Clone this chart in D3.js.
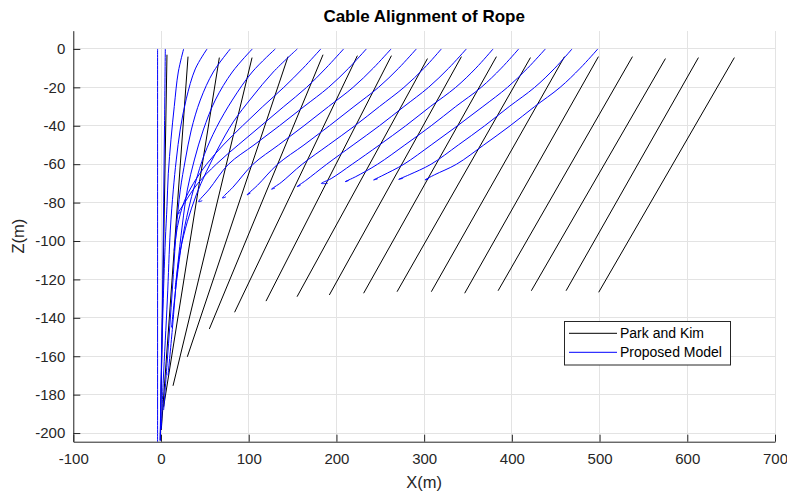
<!DOCTYPE html>
<html>
<head>
<meta charset="utf-8">
<script src="https://cdn.jsdelivr.net/npm/d3@7"></script>
<style>
  html, body { margin: 0; padding: 0; background: #fff; }
  svg { display: block; font-family: "Liberation Sans", Arial, Helvetica, sans-serif; }
</style>
</head>
<body>
<svg id="chart" width="787" height="497"></svg>
<script>
// Axis ticks
const xTicks = [-100, 0, 100, 200, 300, 400, 500, 600, 700];
const zTicks = [-200, -180, -160, -140, -120, -100, -80, -60, -40, -20, 0];

// Park and Kim: straight cable lines, surface end and anchor end
const parkKimTopX    = [653.7, 612.7, 575.1, 537.5, 498.7, 460.0, 421.2, 382.4, 342.5, 303.8, 262.7, 223.9, 184.7, 144.8, 103.8, 66.5, 30.8, 6.8];
const parkKimTopZ    = [-4.5, -4.5, -5.0, -4.0, -4.0, -4.0, -4.5, -4.0, -4.0, -5.0, -3.5, -3.5, -3.0, -4.0, -4.5, -4.5, -4.0, -3.0];
const parkKimBottomX = [499.0, 461.8, 422.2, 384.3, 346.2, 308.2, 269.1, 231.0, 191.9, 155.1, 119.7, 83.9, 55.1, 30.0, 13.7, 3.0, 0.3, -0.8];
const parkKimBottomZ = [-126.7, -125.9, -125.9, -125.9, -127.2, -126.4, -126.4, -127.2, -128.1, -129.0, -131.3, -137.1, -145.8, -160.3, -175.4, -186.3, -198.4, -203.6];

// Proposed model: cable shapes as [x, z] points
const proposedModel = [
  [[498,0],[478,-10],[455,-20],[426,-30],[398,-40],[368,-50],[337,-60],[312,-65.5],[301,-68.2],[305,-67.6]],
  [[468.6,0],[449,-10],[426,-20],[397,-30],[369,-40],[339,-50],[308,-60],[283,-65.5],[271,-67.9],[276,-67.3]],
  [[438.2,0],[418,-10],[395,-20],[367,-30],[338,-40],[308,-50],[277,-60],[253,-65.8],[242.4,-68.2],[247,-67.6]],
  [[407.8,0],[388,-10],[365,-20],[336,-30],[308,-40],[278,-50],[247,-60],[222,-66.5],[210,-69.1],[214,-68.5]],
  [[378.6,0],[359,-10],[336,-20],[307,-30],[279,-40],[249,-50],[218,-60],[194,-67.5],[182.8,-70],[190,-70]],
  [[348.1,0],[328,-10],[305,-20],[277,-30],[249,-40],[219,-50],[189,-60],[165,-68.5],[155.1,-71.7],[159,-71]],
  [[319.6,0],[300,-10],[277,-20],[249,-30],[221,-40],[191,-50],[161,-60],[137,-69.5],[126,-73],[130,-72.4]],
  [[291.1,0],[271,-10],[248,-20],[220,-30],[192,-40],[163,-50],[133,-60],[110,-71],[98,-76],[102,-75]],
  [[262.3,0],[242,-10],[219,-20],[191,-30],[163,-40],[134,-50],[105,-60],[82,-72],[70,-77.6],[74,-77]],
  [[234.1,0],[214,-10],[191,-20],[163,-30],[135,-40],[106,-50],[77,-60],[55,-73],[42.9,-79.5],[47,-79]],
  [[208.2,0],[188,-10],[166,-20],[140,-30],[114,-40],[88,-50],[63,-60],[42,-70],[27,-80],[19,-86],[22,-85]],
  [[182.2,0],[162,-10],[140,-20],[116,-30],[93,-40],[71,-50],[52,-60],[37,-70],[26,-80],[19,-92],[15,-105]],
  [[155.4,0],[128,-12],[104,-25],[82.4,-38],[65.3,-51.6],[51.6,-64],[40.2,-76],[30,-90],[22,-105],[16,-125]],
  [[130.3,0],[104,-12],[81.3,-26.6],[63.1,-41],[49.4,-55],[39.1,-69.8],[31.1,-83.9],[24,-100],[18,-120],[12,-145]],
  [[104.1,0],[81.3,-12],[61.9,-26.6],[48.2,-42.2],[38,-57.8],[30,-73.4],[24.3,-91.7],[18.6,-115],[12.9,-146],[8,-170]],
  [[79,0],[59.6,-12],[44.8,-26.6],[34.5,-42.2],[27.7,-57.8],[22,-73.4],[17.4,-94.3],[12.9,-125.5],[7.2,-162],[3,-188]],
  [[52.5,0],[39.1,-10.4],[28.8,-26],[22,-41.7],[17.4,-57.8],[14,-73.4],[10.6,-94.3],[7.2,-130.7],[2.6,-172.4],[0.3,-198]],
  [[25.8,0],[19.7,-12],[15.1,-30],[11.4,-47],[8.3,-65],[6.8,-82],[4.9,-100],[2.6,-130],[0.3,-172],[-0.8,-204]],
  [[4.9,0],[4,-40],[3,-80],[2,-120],[0.5,-160],[-1,-204]],
  [[-3.9,0],[-3.9,-100],[-3.9,-205]]
];

const seriesNames = ["Park and Kim", "Proposed Model"];
const seriesColors = ["#000000", "#0000ff"];

const svg = d3.select("#chart");
const plotLeft = 73.3, plotRight = 775, plotTop = 30.7, plotBottom = 441.7;

const x = d3.scaleLinear().domain([-100, 700]).range([plotLeft, plotRight]);
const z = d3.scaleLinear().domain([-204.5, 9.5]).range([plotBottom, plotTop]);

const axisColor = "#262626";
const gridColor = "#e3e3e3";
const plainNumber = d => String(d);

// grid
const grid = svg.append("g");
grid.selectAll("line.gx").data(xTicks).join("line")
  .attr("x1", d => x(d)).attr("x2", d => x(d))
  .attr("y1", plotTop).attr("y2", plotBottom)
  .attr("stroke", gridColor).attr("stroke-width", 1).attr("shape-rendering", "crispEdges");
grid.selectAll("line.gz").data(zTicks).join("line")
  .attr("x1", plotLeft).attr("x2", plotRight)
  .attr("y1", d => z(d)).attr("y2", d => z(d))
  .attr("stroke", gridColor).attr("stroke-width", 1).attr("shape-rendering", "crispEdges");

// plot clip
svg.append("clipPath").attr("id", "plotClip")
  .append("rect").attr("x", plotLeft).attr("y", plotTop)
  .attr("width", plotRight - plotLeft).attr("height", plotBottom - plotTop);

const plot = svg.append("g").attr("clip-path", "url(#plotClip)");

// Park and Kim cables
const parkKim = parkKimTopX.map((_, i) => [
  [parkKimTopX[i], parkKimTopZ[i]],
  [parkKimBottomX[i], parkKimBottomZ[i]]
]);
const straight = d3.line().x(d => x(d[0])).y(d => z(d[1]));
plot.selectAll("path.pk").data(parkKim).join("path")
  .attr("d", straight)
  .attr("fill", "none").attr("stroke", seriesColors[0]).attr("stroke-width", 1);

// Proposed model cables
const smooth = d3.line().x(d => x(d[0])).y(d => z(d[1])).curve(d3.curveCatmullRom.alpha(0.5));
plot.selectAll("path.pm").data(proposedModel).join("path")
  .attr("d", smooth)
  .attr("fill", "none").attr("stroke", seriesColors[1]).attr("stroke-width", 1);

// axes
const xAxis = d3.axisBottom(x).tickValues(xTicks).tickFormat(plainNumber)
  .tickSizeInner(-7).tickSizeOuter(0).tickPadding(12);
const zAxis = d3.axisLeft(z).tickValues(zTicks).tickFormat(plainNumber)
  .tickSizeInner(-7).tickSizeOuter(0).tickPadding(8);

const gx = svg.append("g").attr("transform", `translate(0,${plotBottom})`).call(xAxis);
const gz = svg.append("g").attr("transform", `translate(${plotLeft},0)`).call(zAxis);
[gx, gz].forEach(g => {
  g.select(".domain").attr("stroke", axisColor).attr("stroke-width", 1);
  g.selectAll(".tick line").attr("stroke", axisColor);
  g.selectAll(".tick text").attr("fill", axisColor)
    .style("font-size", "15px").style("font-family", "'Liberation Sans', Arial, sans-serif");
});

// titles
svg.append("text").attr("x", (plotLeft + plotRight) / 2).attr("y", 22)
  .attr("text-anchor", "middle").attr("fill", "#000")
  .style("font-size", "17px").style("font-weight", "bold")
  .text("Cable Alignment of Rope");
svg.append("text").attr("x", (plotLeft + plotRight) / 2).attr("y", 488)
  .attr("text-anchor", "middle").attr("fill", axisColor)
  .style("font-size", "16.5px").text("X(m)");
svg.append("text").attr("transform", `translate(23.5,${(plotTop + plotBottom) / 2}) rotate(-90)`)
  .attr("text-anchor", "middle").attr("fill", axisColor)
  .style("font-size", "16.5px").text("Z(m)");

// legend
const lg = svg.append("g");
lg.append("rect").attr("x", 564.5).attr("y", 321.5).attr("width", 166).attr("height", 43.5)
  .attr("fill", "#fff").attr("stroke", axisColor).attr("stroke-width", 1);
seriesNames.forEach((name, i) => {
  const yy = 333.3 + i * 19;
  lg.append("line").attr("x1", 569).attr("x2", 617).attr("y1", yy).attr("y2", yy)
    .attr("stroke", seriesColors[i]).attr("stroke-width", 1);
  lg.append("text").attr("x", 620).attr("y", yy).attr("dy", "0.35em")
    .attr("fill", "#000").style("font-size", "14px").text(name);
});
</script>
</body>
</html>
